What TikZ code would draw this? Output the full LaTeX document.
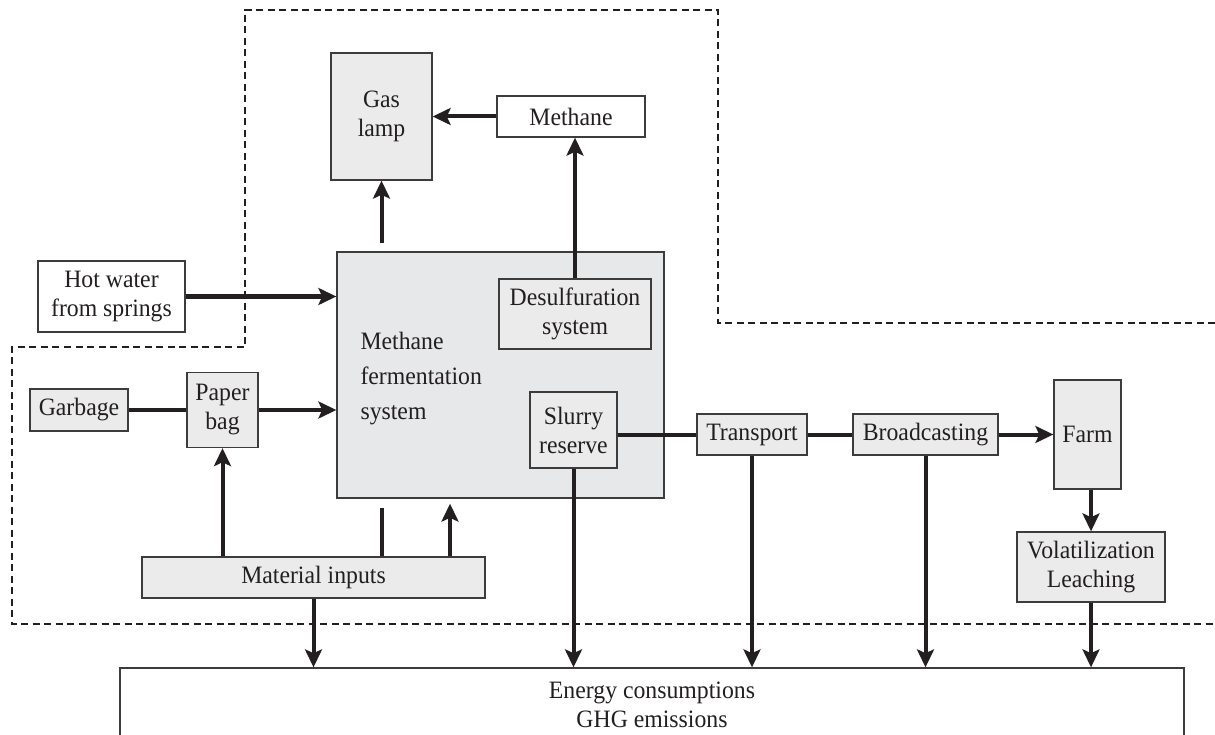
\documentclass[tikz,border=0pt]{standalone}
\usepackage{fontspec}
\setmainfont[FakeStretch=0.95]{Liberation Serif}
\usetikzlibrary{arrows.meta}

\definecolor{inkcol}{HTML}{231F20}
\definecolor{edgecol}{HTML}{3C3C3C}
\definecolor{boxgray}{HTML}{EBEBEC}
\definecolor{biggray}{HTML}{E7E8EA}

\tikzset{
    stage/.style={draw=edgecol, line width=1.3pt, fill=boxgray, text=inkcol,
        align=center, inner sep=2pt},
    plainbox/.style={stage, fill=white},
    link/.style={draw=inkcol, line width=4pt},
    flow/.style={link, -{Stealth[length=18pt,width=17pt,inset=4pt]}},
    border/.style={draw=inkcol, line width=2.4pt, dash pattern=on 7pt off 4.5pt}
}

\begin{document}
\begin{tikzpicture}[x=1pt, y=-1pt, font=\fontsize{25}{29}\selectfont]
    \useasboundingbox (0,0) rectangle (1215,735);
    \clip (0,0) rectangle (1215,735);

    % system boundary
    \draw[border] (1215,323) -- (718,323) -- (718,10) -- (245,10)
        -- (245,347) -- (12,347) -- (12,624) -- (1215,624);

    % boxes
    \node[stage, fill=biggray, minimum width=327pt, minimum height=246pt]
        (ferm) at (500.5,375) {};
    \node[anchor=west, align=left, text=inkcol, font=\fontsize{25}{35}\selectfont]
        (fermtext) at (357,379) {Methane\\fermentation\\system};
    \node[stage, minimum width=101pt, minimum height=127pt]
        (gaslamp) at (381.5,116.5) {Gas\\lamp};
    \node[plainbox, minimum width=148pt, minimum height=41pt]
        (methane) at (571,116.5) {Methane};
    \node[stage, minimum width=152pt, minimum height=70pt]
        (desulf) at (575,314) {Desulfuration\\system};
    \node[stage, minimum width=87pt, minimum height=76pt]
        (slurry) at (573.5,430) {Slurry\\reserve};
    \node[plainbox, minimum width=147pt, minimum height=71pt]
        (hotwater) at (111.5,296.5) {Hot water\\from springs};
    \node[stage, minimum width=98pt, minimum height=42pt]
        (garbage) at (79,410) {Garbage};
    \node[stage, minimum width=71pt, minimum height=75pt]
        (paperbag) at (222.5,410) {Paper\\bag};
    \node[stage, minimum width=343pt, minimum height=41pt]
        (material) at (313.5,577.5) {Material inputs};
    \node[stage, minimum width=110pt, minimum height=41pt]
        (transport) at (752,434.5) {Transport};
    \node[stage, minimum width=145pt, minimum height=41pt]
        (broadcast) at (925.5,434.5) {Broadcasting};
    \node[stage, minimum width=67pt, minimum height=109pt]
        (farm) at (1087.5,434.5) {Farm};
    \node[stage, minimum width=148pt, minimum height=70pt]
        (volat) at (1091,567) {Volatilization\\Leaching};
    \node[plainbox, minimum width=1064pt, minimum height=74pt]
        (energy) at (652,705) {Energy consumptions\\GHG emissions};

    % flows inside the boundary
    \draw[flow] (methane.west) -- (methane.west -| gaslamp.east);
    \draw[flow, shorten <=8pt] (gaslamp.south |- ferm.north) -- (gaslamp.south);
    \draw[flow] (desulf.north) -- (desulf.north |- methane.south);
    \draw[flow] (hotwater.east) -- (hotwater.east -| ferm.west);
    \draw[link] (garbage.east) -- (garbage.east -| paperbag.west);
    \draw[flow] (paperbag.east) -- (paperbag.east -| ferm.west);
    \draw[flow] (paperbag.south |- material.north) -- (paperbag.south);
    \draw[link, shorten >=9pt] (gaslamp.south |- material.north) -- (gaslamp.south |- ferm.south);
    \draw[flow, shorten >=5pt] (450,0 |- material.north) -- (450,0 |- ferm.south);

    % chain to the farm
    \draw[link] (slurry.east |- transport.west) -- (transport.west);
    \draw[link] (transport.east) -- (broadcast.west);
    \draw[flow] (broadcast.east) -- (farm.west);
    \draw[flow] (volat.north |- farm.south) -- (volat.north);

    % outputs
    \foreach \src in {material, slurry, transport, broadcast, volat}{
        \draw[flow] (\src.south) -- (\src.south |- energy.north);
    }
\end{tikzpicture}
\end{document}
